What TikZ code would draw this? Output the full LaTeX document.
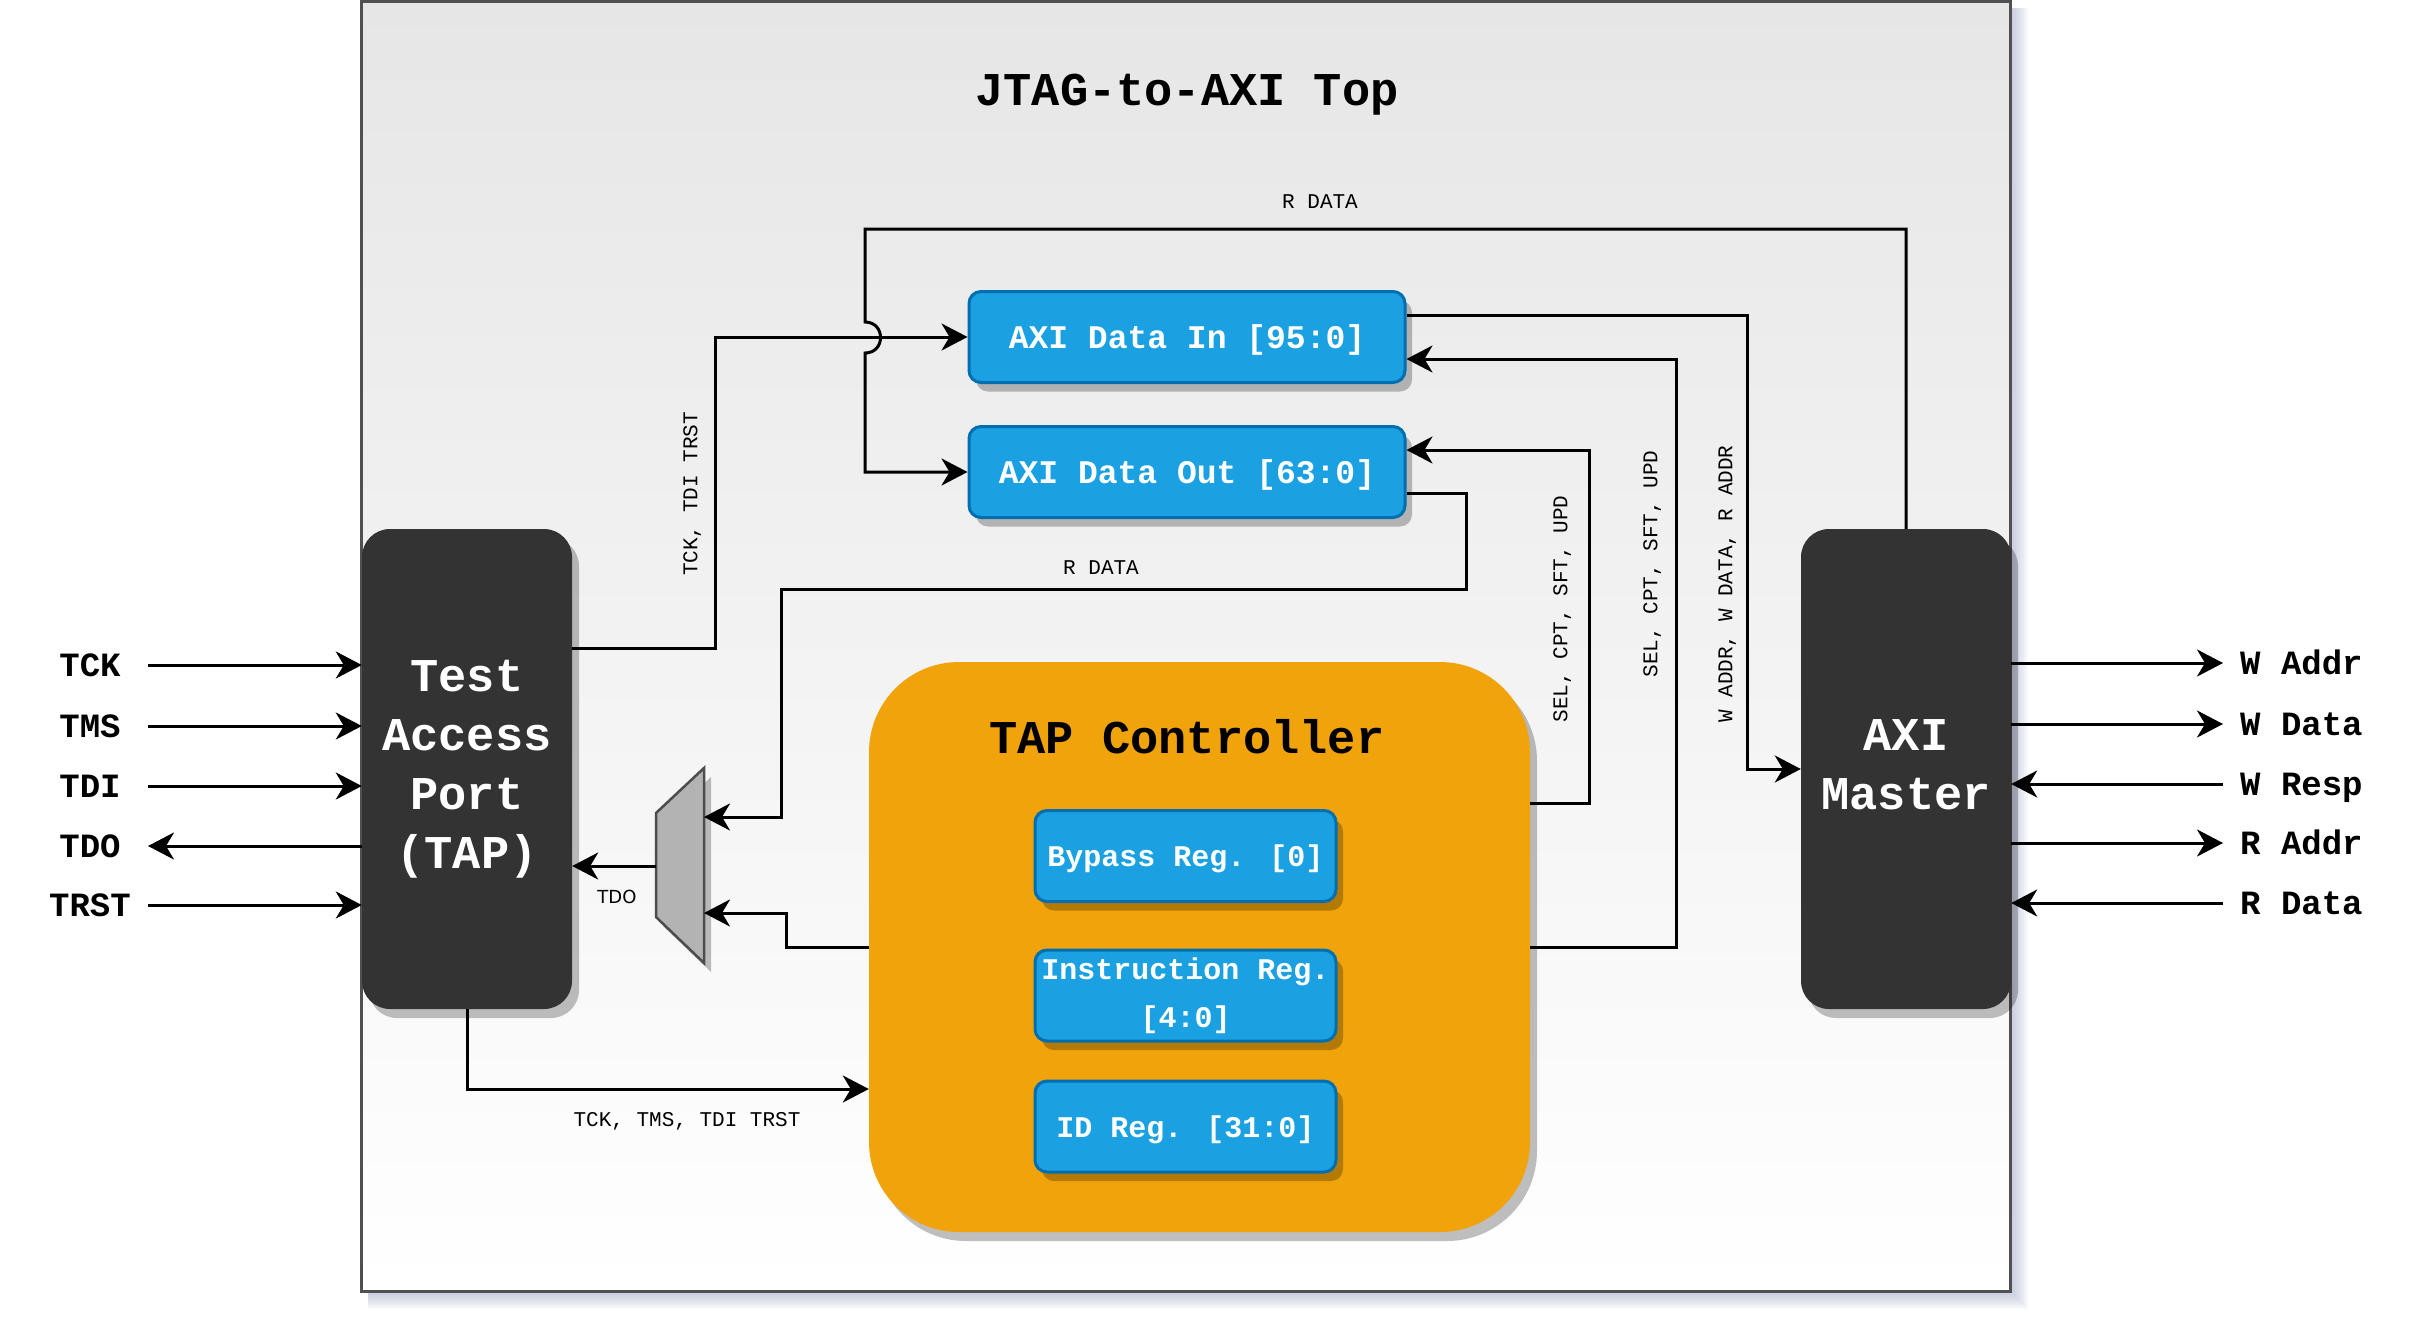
\documentclass[tikz,border=0pt]{standalone}
\usepackage{fontspec}
\setmainfont{Liberation Mono}
\newfontfamily\dvsans{DejaVu Sans}
\usetikzlibrary{arrows.meta,shadows,calc}
\definecolor{bluef}{HTML}{1BA1E2}
\definecolor{blued}{HTML}{006EAF}
\definecolor{orangef}{HTML}{F0A30A}
\definecolor{darkf}{HTML}{333333}
\definecolor{muxf}{HTML}{B3B3B3}
\definecolor{muxd}{HTML}{4D4D4D}
\definecolor{frame}{HTML}{505050}
\definecolor{topbg}{HTML}{E6E6E6}
\definecolor{shblue}{HTML}{6A76A8}
\tikzset{
  conn/.style={line width=3pt,-{Stealth[length=26pt,width=27pt,inset=8pt]}},
  shd/.style={drop shadow={shadow xshift=7pt,shadow yshift=-9pt,opacity=0.25,fill=black}},
  darkbox/.style={rectangle,rounded corners=28pt,fill=darkf,shd,text=white,
    font=\fontsize{47}{59}\selectfont\bfseries,align=center,
    minimum width=210pt,minimum height=480pt,inner sep=0pt},
  bluebox/.style={rectangle,rounded corners=12pt,fill=bluef,draw=blued,line width=3pt,shd,
    text=white,inner sep=0pt},
  regbox/.style={bluebox,minimum width=301pt,minimum height=91pt,
    font=\fontsize{30}{48}\selectfont\bfseries,align=center},
  databox/.style={bluebox,minimum width=436pt,minimum height=91pt,
    font=\fontsize{33}{40}\selectfont\bfseries,text height=23pt,text depth=0pt},
  portlbl/.style={font=\fontsize{34}{40}\selectfont\bfseries,inner sep=0pt,text height=23pt,text depth=0pt},
  sig/.style={font=\fontsize{21}{24}\selectfont,inner sep=0pt,text height=14.5pt,text depth=0pt},
  bigtitle/.style={font=\fontsize{47}{59}\selectfont\bfseries,inner sep=0pt,text height=32pt,text depth=0pt}
}
\begin{document}
\begin{tikzpicture}[x=1pt,y=-1pt]
\useasboundingbox (0,0) rectangle (2430,1326);
% outer frame with soft shadow
\foreach \i in {1,...,9} {
  \fill[shblue,opacity=0.05] (368,8) rectangle (2010+2*\i,1291+2*\i);
}
\draw[frame,line width=3pt,top color=topbg,bottom color=white] (361,1.5) rectangle (2010,1291);
\node[bigtitle] (title) at (1187,89) {JTAG-to-AXI Top};

% main blocks
\node[darkbox] (tap) at (467,769) {Test\\Access\\Port\\(TAP)};
\node[darkbox] (master) at (1906,769) {AXI\\Master\rule[-8pt]{0pt}{8pt}};
\node[databox] (din) at (1187,337) {AXI Data In [95:0]};
\node[databox] (dout) at (1187,472) {AXI Data Out [63:0]};
\node[rectangle,rounded corners=90pt,fill=orangef,shd,minimum width=661pt,minimum height=570pt,inner sep=0pt] (ctrl) at (1199.5,947) {};
\node[bigtitle] (ctrltitle) at (1187,737) {TAP Controller};
\node[regbox,text height=21pt,text depth=0pt] (bypass) at (1185.5,856) {Bypass Reg. [0]};
\node[regbox] (instr) at (1185.5,995.5) {Instruction Reg.\\{[4:0]}};
\node[regbox,text height=21pt,text depth=0pt] (idreg) at (1185.5,1126.5) {ID Reg. [31:0]};

% mux
\coordinate (muxout) at (656,866);
\coordinate (muxinA) at (704,817);
\coordinate (muxinB) at (704,913);
\fill[black,opacity=0.25] (663,822) -- (711,777) -- (711,972) -- (663,926) -- cycle;
\draw[fill=muxf,draw=muxd,line width=2.5pt,line join=miter] (656,813) -- (704,768) -- (704,963) -- (656,917) -- cycle;

% internal connectors
\draw[conn] ([yshift=121pt]tap.east) -| (715,337) -- (din.west);
\draw[conn] (master.north) |- (865,229) -- (865,322)
   .. controls (885.7,322) and (885.7,353) .. (865,353) -- (865,472) -- (dout.west);
\draw[conn] ([yshift=22pt]din.east) -| (1747,769) -- (master.west);
\draw[conn] (ctrl.east) -| (1676,359) -- ([yshift=-22pt]din.east);
\draw[conn] ([yshift=144pt]ctrl.east) -| (1589,450) -- ([yshift=22pt]dout.east);
\draw[conn] ([yshift=-21pt]dout.east) -| (1466,589) -| (781,817) -- (muxinA);
\draw[conn] (ctrl.west) -| (786,913) -- (muxinB);
\draw[conn] (muxout) -- (tap.east |- muxout);
\draw[conn] (tap.south) |- ([yshift=-142pt]ctrl.west);

% connector labels
\node[sig] (lrd1) at (1320,201) {R DATA};
\node[sig] (lrd2) at (1101,567) {R DATA};
\node[sig,rotate=90] (ltck) at (690,494) {TCK, TDI TRST};
\node[sig,rotate=90] (lsel1) at (1560,609) {SEL, CPT, SFT, UPD};
\node[sig,rotate=90] (lsel2) at (1650,564) {SEL, CPT, SFT, UPD};
\node[sig,rotate=90] (lwaddr) at (1725,584) {W ADDR, W DATA, R ADDR};
\node[sig] (ltms) at (687,1119) {TCK, TMS, TDI TRST};
\node[font=\dvsans\fontsize{18}{22}\selectfont,inner sep=0pt,text height=13pt,text depth=0pt] (ltdo) at (617,897) {TDO};

% left ports
\coordinate (lx) at (148,0);
\coordinate (rx) at (2223,0);
\node[portlbl] (ptck) at (90,665) {TCK};
\node[portlbl] (ptms) at (90,726) {TMS};
\node[portlbl] (ptdi) at (90,786) {TDI};
\node[portlbl] (ptdo) at (90,846) {TDO};
\node[portlbl] (ptrst) at (90,905) {TRST};
\draw[conn] (lx |- ptck) -- (tap.west |- ptck);
\draw[conn] (lx |- ptms) -- (tap.west |- ptms);
\draw[conn] (lx |- ptdi) -- (tap.west |- ptdi);
\draw[conn] (tap.west |- ptdo) -- (lx |- ptdo);
\draw[conn] (lx |- ptrst) -- (tap.west |- ptrst);

% right ports
\node[portlbl,anchor=west] (pwa) at (2240,663) {W Addr};
\node[portlbl,anchor=west] (pwd) at (2240,724) {W Data};
\node[portlbl,anchor=west] (pwr) at (2240,784) {W Resp};
\node[portlbl,anchor=west] (pra) at (2240,843) {R Addr};
\node[portlbl,anchor=west] (prd) at (2240,903) {R Data};
\draw[conn] (master.east |- pwa) -- (rx |- pwa);
\draw[conn] (master.east |- pwd) -- (rx |- pwd);
\draw[conn] (rx |- pwr) -- (master.east |- pwr);
\draw[conn] (master.east |- pra) -- (rx |- pra);
\draw[conn] (rx |- prd) -- (master.east |- prd);
\end{tikzpicture}
\end{document}
